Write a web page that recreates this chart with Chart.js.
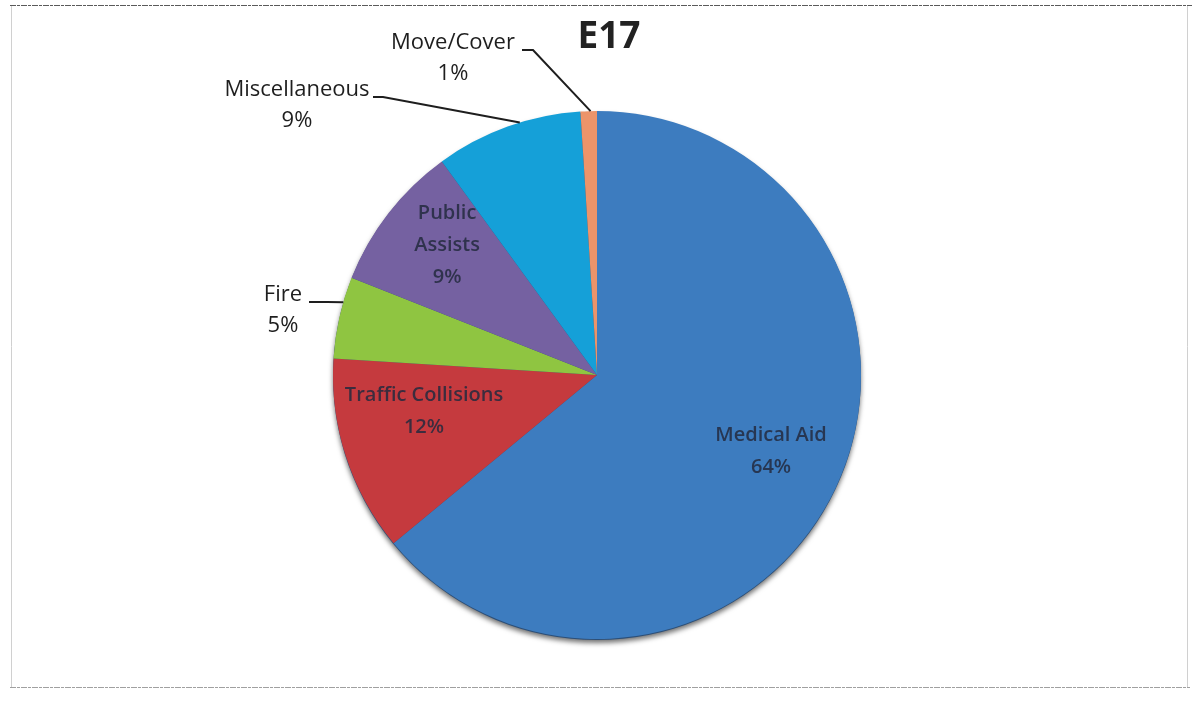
<!DOCTYPE html>
<html>
<head>
<meta charset="utf-8">
<title>E17</title>
<script src="https://cdn.jsdelivr.net/npm/chart.js@4/dist/chart.umd.min.js"></script>
<style>
  html, body { margin: 0; padding: 0; background: #ffffff; }
  #wrap { width: 1197px; height: 705px; position: relative; }
</style>
</head>
<body>
<div id="wrap"><canvas id="c" width="1197" height="705"></canvas></div>
<script>
// Call types for engine E17 (share of responses, %)
const categories = ['Medical Aid', 'Traffic Collisions', 'Fire', 'Public Assists', 'Miscellaneous', 'Move/Cover'];
const percentages = [64, 12, 5, 9, 9, 1];
const sliceColors = ['#3d7cbf', '#c53a3e', '#8fc541', '#7561a1', '#15a0d8', '#ec946a'];
const chartTitle = 'E17';

// Labels drawn inside the slice (radial fraction of the radius) or outside with a leader line
const insideLabels = {
  0: { lines: ['Medical Aid', '64%'], frac: 0.72, angleShift: -1.5 },
  1: { lines: ['Traffic Collisions', '12%'], frac: 0.67, angleShift: 6 },
  3: { lines: ['Public', 'Assists', '9%'], frac: 0.75, angleShift: 3 }
};
// Outside labels: leader leaves the slice edge, bends at an elbow, then runs
// horizontally to the text block. Offsets are relative to the pie centre.
const outsideLabels = {
  2: { lines: ['Fire', '5%'], edgeAngle: 286, elbow: [-270, -73], end: [-288, -73], text: [-314, -80] },
  4: { lines: ['Miscellaneous', '9%'], edgeAngle: 343, elbow: [-214, -278], end: [-224, -278], text: [-300, -285] },
  5: { lines: ['Move/Cover', '1%'], edgeAngle: 358.6, elbow: [-64, -325], end: [-75, -325], text: [-144, -332] }
};

const framePlugin = {
  id: 'frame',
  beforeDraw(chart) {
    const ctx = chart.ctx;
    ctx.save();
    ctx.fillStyle = '#ffffff';
    ctx.fillRect(0, 0, chart.width, chart.height);
    ctx.lineWidth = 1;
    ctx.strokeStyle = '#5a5a5a';
    ctx.setLineDash([6, 1, 3, 1]);
    ctx.beginPath(); ctx.moveTo(10, 5.5); ctx.lineTo(1192, 5.5); ctx.stroke();
    ctx.strokeStyle = '#a0a0a0';
    ctx.beginPath(); ctx.moveTo(10, 687.5); ctx.lineTo(1190, 687.5); ctx.stroke();
    ctx.setLineDash([]);
    ctx.strokeStyle = '#d0d0d0';
    ctx.beginPath(); ctx.moveTo(11.5, 6); ctx.lineTo(11.5, 687); ctx.stroke();
    ctx.beginPath(); ctx.moveTo(1187.5, 6); ctx.lineTo(1187.5, 687); ctx.stroke();
    ctx.restore();
  }
};

const shadowPlugin = {
  id: 'pieShadow',
  beforeDatasetsDraw(chart) {
    const arc = chart.getDatasetMeta(0).data[0];
    if (!arc) return;
    const ctx = chart.ctx;
    ctx.save();
    ctx.shadowColor = 'rgba(0,0,0,0.55)';
    ctx.shadowBlur = 5;
    ctx.shadowOffsetY = 3;
    ctx.fillStyle = '#2c4f78';
    ctx.beginPath();
    ctx.arc(arc.x, arc.y + 1, arc.outerRadius, 0, Math.PI * 2);
    ctx.fill();
    ctx.restore();
  }
};

const labelPlugin = {
  id: 'sliceLabels',
  afterDatasetsDraw(chart) {
    const ctx = chart.ctx;
    const arcs = chart.getDatasetMeta(0).data;
    const cx = arcs[0].x, cy = arcs[0].y, R = arcs[0].outerRadius;

    // inside labels
    ctx.save();
    ctx.font = '600 20px "Open Sans", sans-serif';
    ctx.textAlign = 'center';
    ctx.textBaseline = 'middle';
    ctx.fillStyle = 'rgba(35,42,62,0.85)';
    ctx.filter = 'blur(0.6px)';
    Object.keys(insideLabels).forEach(k => {
      const a = arcs[k];
      const cfg = insideLabels[k];
      const mid = (a.startAngle + a.endAngle) / 2 + cfg.angleShift * Math.PI / 180;
      const x = cx + Math.cos(mid) * R * cfg.frac;
      const y = cy + Math.sin(mid) * R * cfg.frac;
      const lh = 32;
      const y0 = y - (cfg.lines.length - 1) * lh / 2;
      cfg.lines.forEach((t, i) => ctx.fillText(t, x, y0 + i * lh));
    });
    ctx.restore();

    // outside labels with leader lines
    ctx.save();
    ctx.font = '22px "Open Sans", sans-serif';
    ctx.textAlign = 'center';
    ctx.textBaseline = 'middle';
    ctx.fillStyle = '#1e1e1e';
    ctx.strokeStyle = '#1e1e1e';
    ctx.lineWidth = 2;
    Object.keys(outsideLabels).forEach(k => {
      const cfg = outsideLabels[k];
      const ang = (cfg.edgeAngle - 90) * Math.PI / 180;
      const ex = cx + Math.cos(ang) * R, ey = cy + Math.sin(ang) * R;
      ctx.beginPath();
      ctx.moveTo(ex, ey);
      ctx.lineTo(cx + cfg.elbow[0], cy + cfg.elbow[1]);
      ctx.lineTo(cx + cfg.end[0], cy + cfg.end[1]);
      ctx.stroke();
      const tx = cx + cfg.text[0], ty = cy + cfg.text[1];
      cfg.lines.forEach((t, i) => ctx.fillText(t, tx, ty + i * 31));
    });
    ctx.restore();

    // title
    ctx.save();
    ctx.font = 'bold 37px "Open Sans", sans-serif';
    ctx.textAlign = 'center';
    ctx.textBaseline = 'middle';
    ctx.fillStyle = '#222222';
    ctx.fillText(chartTitle, 609, 37);
    ctx.restore();
  }
};

new Chart(document.getElementById('c'), {
  type: 'pie',
  data: {
    labels: categories,
    datasets: [{
      data: percentages,
      backgroundColor: sliceColors,
      borderWidth: 0,
      hoverOffset: 0
    }]
  },
  options: {
    responsive: false,
    animation: false,
    rotation: 0,
    layout: { padding: { left: 333, right: 336, top: 111, bottom: 66 } },
    plugins: {
      legend: { display: false },
      title: { display: false },
      tooltip: { enabled: false }
    }
  },
  plugins: [framePlugin, shadowPlugin, labelPlugin]
});
</script>
</body>
</html>
